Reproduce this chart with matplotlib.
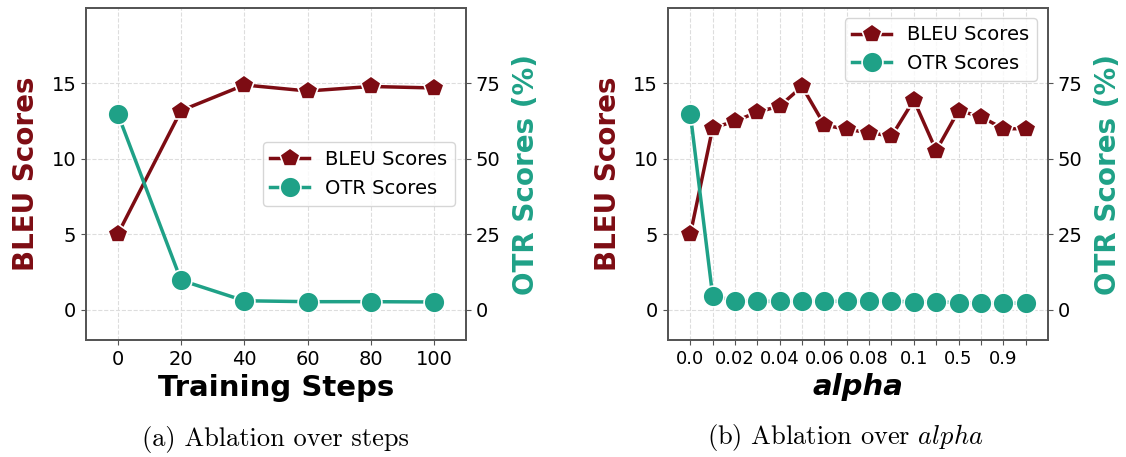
import numpy as np
import matplotlib.pyplot as plt

# ablation over training steps
steps = [0, 20, 40, 60, 80, 100]
bleu_steps = [5.0, 13.2, 14.9, 14.5, 14.8, 14.7]
otr_steps = [65.0, 9.8, 3.0, 2.7, 2.7, 2.6]

# ablation over alpha
alpha_labels = ['0.0', '0.01', '0.02', '0.03', '0.04', '0.05', '0.06', '0.07',
                '0.08', '0.09', '0.1', '0.3', '0.5', '0.7', '0.9', '1.0']
bleu_alpha = [5.0, 12.05, 12.5, 13.1, 13.5, 14.8, 12.25, 11.95,
              11.75, 11.5, 13.9, 10.55, 13.2, 12.8, 12.0, 12.0]
otr_alpha = [65.0, 4.7, 3.0, 2.8, 2.8, 2.8, 2.8, 2.8,
             2.8, 2.8, 2.7, 2.6, 2.4, 2.3, 2.2, 2.2]

RED = '#7d0c13'
TEAL = '#1fa187'

plt.rcParams['mathtext.fontset'] = 'cm'
fig = plt.figure(figsize=(11.26, 4.57), dpi=100)


def panel(rect, x, bleu, otr, xlabel, xlim, xstyle):
    ax = fig.add_axes(rect)
    ax2 = ax.twinx()
    l1, = ax.plot(x, bleu, color=RED, lw=2.5, marker='p', markersize=15,
                  markeredgecolor='white', markeredgewidth=1.2, label='BLEU Scores')
    l2, = ax2.plot(x, otr, color=TEAL, lw=2.5, marker='o', markersize=15,
                   markeredgecolor='white', markeredgewidth=1.2, label='OTR Scores')
    ax.set_ylim(-2, 20)
    ax2.set_ylim(-10, 100)
    ax.set_yticks([0, 5, 10, 15])
    ax2.set_yticks([0, 25, 50, 75])
    ax.set_xlim(*xlim)
    ax.grid(True, linestyle='--', color='#dddddd', linewidth=0.8)
    ax.set_axisbelow(True)
    ax.set_ylabel('BLEU Scores', fontsize=20, fontweight='bold', color=RED, labelpad=8)
    ax2.set_ylabel('OTR Scores (%)', fontsize=20, fontweight='bold', color=TEAL, labelpad=8)
    ax.set_xlabel(xlabel, fontsize=21, fontweight='bold', style=xstyle, labelpad=4)
    for a in (ax, ax2):
        a.tick_params(labelsize=14, color='#555555')
        for s in a.spines.values():
            s.set_color('#555555')
            s.set_linewidth(1.3)
    return ax, ax2, [l1, l2]


ax, ax2, lines = panel([0.0764, 0.256, 0.3375, 0.7265], steps, bleu_steps, otr_steps,
                       'Training Steps', (-10, 110), 'normal')
ax.set_xticks(steps)
ax2.legend(lines, [l.get_label() for l in lines], loc='center right',
           fontsize=14, bbox_to_anchor=(0.996, 0.50), handlelength=2.0)

idx = np.arange(len(alpha_labels))
bx, bx2, lines = panel([0.5932, 0.256, 0.3375, 0.7265], idx, bleu_alpha, otr_alpha,
                       'alpha', (-1, 16), 'italic')
bx.set_xticks(idx)
bx.set_xticklabels([lab if i % 2 == 0 else '' for i, lab in enumerate(alpha_labels)])
bx.tick_params(axis='x', labelsize=13)
bx2.legend(lines, [l.get_label() for l in lines], loc='upper right',
           fontsize=14, bbox_to_anchor=(0.996, 1.0), handlelength=2.0)

fig.text(0.245, 0.009, '(a) Ablation over steps', fontsize=19, family='cmr10',
         ha='center', va='bottom')
fig.text(0.751, 0.009, '(b) Ablation over $alpha$', fontsize=19, family='cmr10',
         ha='center', va='bottom')

fig.savefig('out.png', dpi=100)
